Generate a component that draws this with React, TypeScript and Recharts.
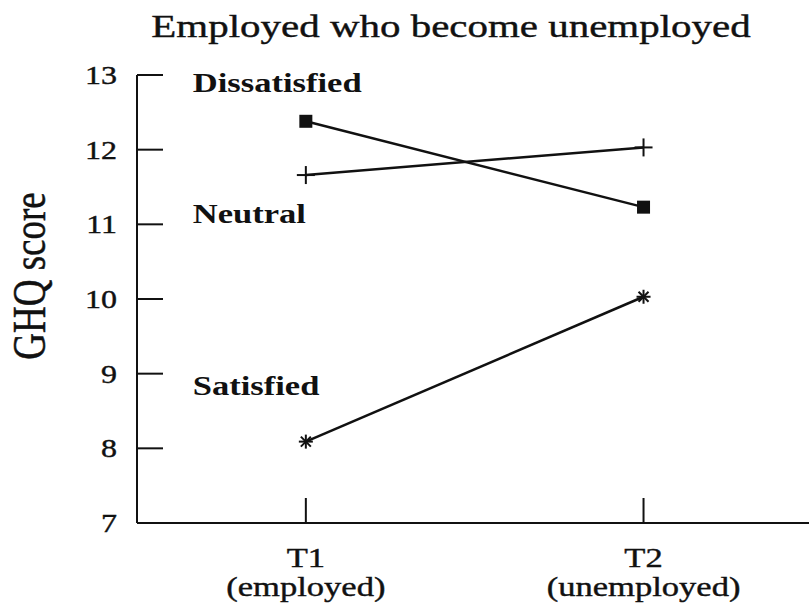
import { Line, LineChart, ReferenceDot, XAxis, YAxis } from 'recharts';

// values
const times = [1, 2];
const timeLabels = ['T1', 'T2'];
const timeSubLabels = ['(employed)', '(unemployed)'];
const dissatisfied = [12.38, 11.23];
const neutral = [11.66, 12.03];
const satisfied = [8.09, 10.03];
const yTicks = [7, 8, 9, 10, 11, 12, 13];

const groupLabels = [
  { text: 'Dissatisfied', t: 0.665, v: 12.77 },
  { text: 'Neutral', t: 0.665, v: 11.02 },
  { text: 'Satisfied', t: 0.665, v: 8.72 },
];

const data = times.map((t, i) => ({
  t,
  dissatisfied: dissatisfied[i],
  neutral: neutral[i],
  satisfied: satisfied[i],
}));

const FONT = '"Liberation Serif", "Times New Roman", serif';
const INK = '#111';
// the scan is stretched sideways, so text is widened a bit
const STRETCH = 1.28;

const Wide = ({ x, y, size, anchor = 'start', weight = 'normal', children }) => (
  <text
    transform={`translate(${x},${y}) scale(${STRETCH},1)`}
    textAnchor={anchor}
    fontSize={size}
    fontWeight={weight}
    fontFamily={FONT}
    fill={INK}
    stroke={weight === 'normal' ? INK : 'none'}
    strokeWidth={0.4}
  >
    {children}
  </text>
);

const YTick = ({ x, y, payload }) => (
  <Wide x={x} y={y + 9} size={25} anchor="end">{payload.value}</Wide>
);

const XTick = ({ x, y, payload }) => {
  const i = times.indexOf(payload.value);
  return (
    <g>
      <Wide x={x} y={y + 44} size={27} anchor="middle">{timeLabels[i]}</Wide>
      <Wide x={x} y={y + 73} size={27} anchor="middle">{timeSubLabels[i]}</Wide>
    </g>
  );
};

const SquareDot = ({ cx, cy, index }) => (
  <rect key={'sq' + index} x={cx - 6.5} y={cy - 6.5} width={13} height={13} fill={INK} />
);

const PlusDot = ({ cx, cy, index }) => (
  <g key={'pl' + index} stroke={INK} strokeWidth={2}>
    <line x1={cx - 9} y1={cy} x2={cx + 9} y2={cy} />
    <line x1={cx} y1={cy - 9} x2={cx} y2={cy + 9} />
  </g>
);

const StarDot = ({ cx, cy, index }) => (
  <g key={'st' + index} stroke={INK} strokeWidth={2}>
    <line x1={cx - 7} y1={cy} x2={cx + 7} y2={cy} />
    <line x1={cx} y1={cy - 7} x2={cx} y2={cy + 7} />
    <line x1={cx - 5} y1={cy - 5} x2={cx + 5} y2={cy + 5} />
    <line x1={cx - 5} y1={cy + 5} x2={cx + 5} y2={cy - 5} />
  </g>
);

const groupLabel = (text) => (props) => {
  const vb = props.viewBox || {};
  return <Wide x={vb.x} y={vb.y} size={27} weight="bold">{text}</Wide>;
};

export default function App() {
  return (
    <div style={{ position: 'absolute', left: 0, top: 0, width: 809, height: 610, background: '#fff' }}>
      <LineChart
        width={809}
        height={610}
        data={data}
        margin={{ top: 75, right: 0, bottom: 0, left: 0 }}
      >
        <XAxis
          dataKey="t"
          type="number"
          domain={[0.5, 2.49]}
          allowDataOverflow
          ticks={times}
          height={87}
          axisLine={{ stroke: INK, strokeWidth: 2 }}
          tickLine={{ stroke: INK, strokeWidth: 2 }}
          tickSize={-25}
          tickMargin={25}
          tick={XTick}
        />
        <YAxis
          type="number"
          domain={[7, 13]}
          ticks={yTicks}
          width={137}
          axisLine={{ stroke: INK, strokeWidth: 2 }}
          tickLine={{ stroke: INK, strokeWidth: 2 }}
          tickSize={-26}
          tickMargin={46}
          tick={YTick}
        />
        <Line dataKey="dissatisfied" stroke={INK} strokeWidth={2.5} dot={SquareDot} isAnimationActive={false} />
        <Line dataKey="neutral" stroke={INK} strokeWidth={2.5} dot={PlusDot} isAnimationActive={false} />
        <Line dataKey="satisfied" stroke={INK} strokeWidth={2.5} dot={StarDot} isAnimationActive={false} />
        {groupLabels.map((g) => (
          <ReferenceDot
            key={g.text}
            x={g.t}
            y={g.v}
            r={0}
            fill="none"
            stroke="none"
            label={{ content: groupLabel(g.text) }}
          />
        ))}
      </LineChart>
      <svg width={809} height={610} style={{ position: 'absolute', left: 0, top: 0, pointerEvents: 'none' }}>
        <Wide x={451} y={37} size={32} anchor="middle">Employed who become unemployed</Wide>
        <text
          transform={`translate(45,276) scale(${STRETCH},1) rotate(-90)`}
          textAnchor="middle"
          fontSize={37}
          fontFamily={FONT}
          fill={INK}
          stroke={INK}
          strokeWidth={0.4}
        >
          GHQ score
        </text>
      </svg>
    </div>
  );
}
